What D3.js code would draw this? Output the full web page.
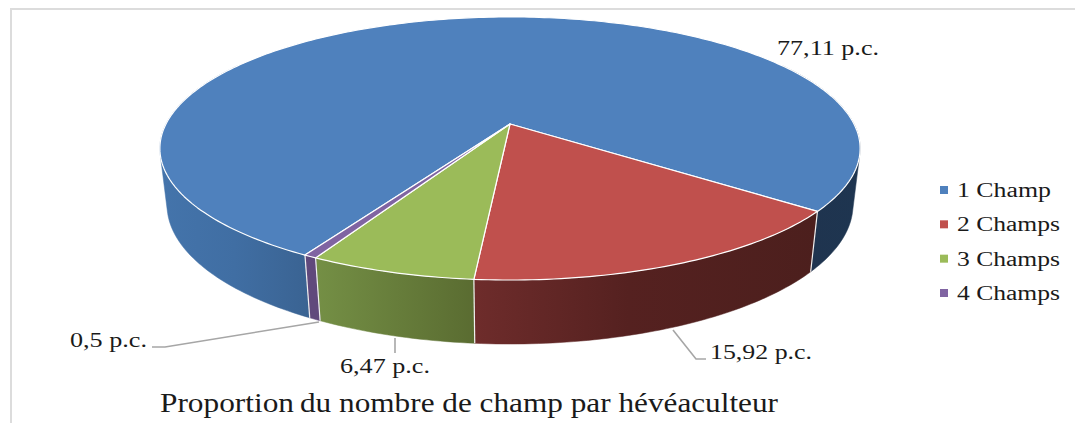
<!DOCTYPE html>
<html>
<head>
<meta charset="utf-8">
<script src="https://cdn.jsdelivr.net/npm/d3@7"></script>
<style>
  html, body { margin: 0; padding: 0; background: #fff; }
  svg { display: block; }
  text { font-family: "Liberation Serif", serif; fill: #1a1a1a; }
</style>
</head>
<body>
<svg id="chart"></svg>
<script>
const W = 1075, H = 423;

const categories = ["1 Champ", "2 Champs", "3 Champs", "4 Champs"];
const values = [77.11, 15.92, 6.47, 0.5];
const valueLabels = ["77,11 p.c.", "15,92 p.c.", "6,47 p.c.", "0,5 p.c."];
const topColors = ["#4f81bd", "#c0504d", "#9bbb59", "#8064a2"];
const titleText = ["Proportion", "du nombre de champ par hévéaculteur"];

const svg = d3.select("#chart").attr("width", W).attr("height", H);
svg.append("rect").attr("width", W).attr("height", H).attr("fill", "#fff");

// Frame, only top and left show in the picture
svg.append("path")
  .attr("d", "M11,423V9H1075")
  .attr("fill", "none")
  .attr("stroke", "#dcdcdc")
  .attr("stroke-width", 2);

// Perspective of the pie: a real circle seen by a camera, so the apex sits above the ellipse centre
const cx = 510, cy = 124, a = 344, b = 127, k = 0.186;
const depth = 56.5, shrink = 0.02;

const topPoint = (t) => {
  const u = Math.sin(t), v = -Math.cos(t), w = 1 - k * v;
  return [cx + (a * u) / w, cy + (b * v) / w];
};
const lowPoint = (t) => {
  const u = Math.sin(t), v = -Math.cos(t), w = 1 - k * v + shrink;
  return [cx + (a * u) / w, cy + (b * v + depth) / w];
};

const rad = (deg) => (deg * Math.PI) / 180;
const pie = d3.pie().sort(null).startAngle(rad(210)).endAngle(rad(570));
const arcs = pie(values);

const line = d3.line();
const sample = (fn, t0, t1) => {
  const n = Math.max(2, Math.ceil(Math.abs(t1 - t0) / rad(1)));
  return d3.range(n + 1).map((i) => fn(t0 + ((t1 - t0) * i) / n));
};

// Side walls: gradient runs along x
const defs = svg.append("defs");
const addGradient = (id, x1, x2, stops) => {
  const g = defs.append("linearGradient")
    .attr("id", id)
    .attr("gradientUnits", "userSpaceOnUse")
    .attr("x1", x1).attr("x2", x2).attr("y1", 0).attr("y2", 0);
  stops.forEach(([o, c]) => g.append("stop").attr("offset", o).attr("stop-color", c));
  return `url(#${id})`;
};

const blueLeft = addGradient("wall-blue-l", 160, 310, [[0, "#4474ab"], [0.5, "#406ea3"], [1, "#3a6392"]]);
const blueRight = addGradient("wall-blue-r", 809, 860, [[0, "#1f344f"], [1, "#1e3550"]]);
const redWall = addGradient("wall-red", 474, 817, [[0, "#6e2c2b"], [0.45, "#552120"], [1, "#4c1f1d"]]);
const greenWall = addGradient("wall-green", 317, 474, [[0, "#748f45"], [1, "#5a6c31"]]);
const purpleWall = "#60497c";

const drawWall = (t0, t1, fill) => {
  const pts = sample(topPoint, t0, t1).concat(sample(lowPoint, t1, t0));
  svg.append("path")
    .attr("d", line(pts) + "Z")
    .attr("fill", fill)
    .attr("stroke", fill)
    .attr("stroke-width", 0.5);
};

// The two outer blue walls use the hull, it gives the straight tangent from top rim to lower rim
const drawHullWall = (t0, t1, fill) => {
  const pts = sample(topPoint, t0, t1).concat(sample(lowPoint, t1, t0));
  svg.append("path")
    .attr("d", line(d3.polygonHull(pts)) + "Z")
    .attr("fill", fill)
    .attr("stroke", fill)
    .attr("stroke-width", 0.5);
};

const [blue, red, green, purple] = arcs;
drawHullWall(blue.startAngle, rad(300), blueLeft);
drawHullWall(rad(60 + 360), blue.endAngle, blueRight);
drawWall(red.startAngle, red.endAngle, redWall);
drawWall(green.startAngle, green.endAngle, greenWall);
drawWall(purple.startAngle, purple.endAngle, purpleWall);

// White rims on the wall edges
[blue.endAngle, red.endAngle, green.endAngle, purple.endAngle].forEach((t) => {
  svg.append("path")
    .attr("d", line([topPoint(t), lowPoint(t)]))
    .attr("stroke", "#f0f0f0")
    .attr("stroke-width", 1.2)
    .attr("fill", "none");
});

// Top face
arcs.forEach((d, i) => {
  const pts = [[cx, cy]].concat(sample(topPoint, d.startAngle, d.endAngle));
  svg.append("path")
    .attr("d", line(pts) + "Z")
    .attr("fill", topColors[i])
    .attr("stroke", "#fff")
    .attr("stroke-width", 1.2)
    .attr("stroke-linejoin", "round");
});

// Leader lines
const leaders = [
  [[673, 330], [696, 359], [706, 359]],
  [[395, 338], [395, 353]],
  [[319, 322], [165, 347], [152, 347]],
];
leaders.forEach((pts) => {
  svg.append("path")
    .attr("d", line(pts))
    .attr("fill", "none")
    .attr("stroke", "#a6a6a6")
    .attr("stroke-width", 1.6);
});

const stretched = (x, y, width, size, str) =>
  svg.append("text")
    .attr("x", x).attr("y", y)
    .attr("font-size", size)
    .attr("textLength", width)
    .attr("lengthAdjust", "spacingAndGlyphs")
    .text(str);

// Data labels (the picture is wider than tall, so glyphs are stretched)
stretched(777, 55, 102, 22, valueLabels[0]);
stretched(710, 359, 102, 22, valueLabels[1]);
stretched(340, 373, 90, 22, valueLabels[2]);
stretched(70, 347, 77, 22, valueLabels[3]);

// Title
stretched(160, 412, 134, 27, titleText[0]);
stretched(300, 412, 478, 27, titleText[1]);

// Legend
const legendY = d3.scalePoint().domain(categories).range([190, 293]);
const legendWidths = [94, 103, 103, 103];
categories.forEach((c, i) => {
  svg.append("rect")
    .attr("x", 940).attr("y", legendY(c) - 4)
    .attr("width", 8).attr("height", 8)
    .attr("fill", topColors[i]);
  stretched(957, legendY(c) + 7, legendWidths[i], 20, c);
});
</script>
</body>
</html>
